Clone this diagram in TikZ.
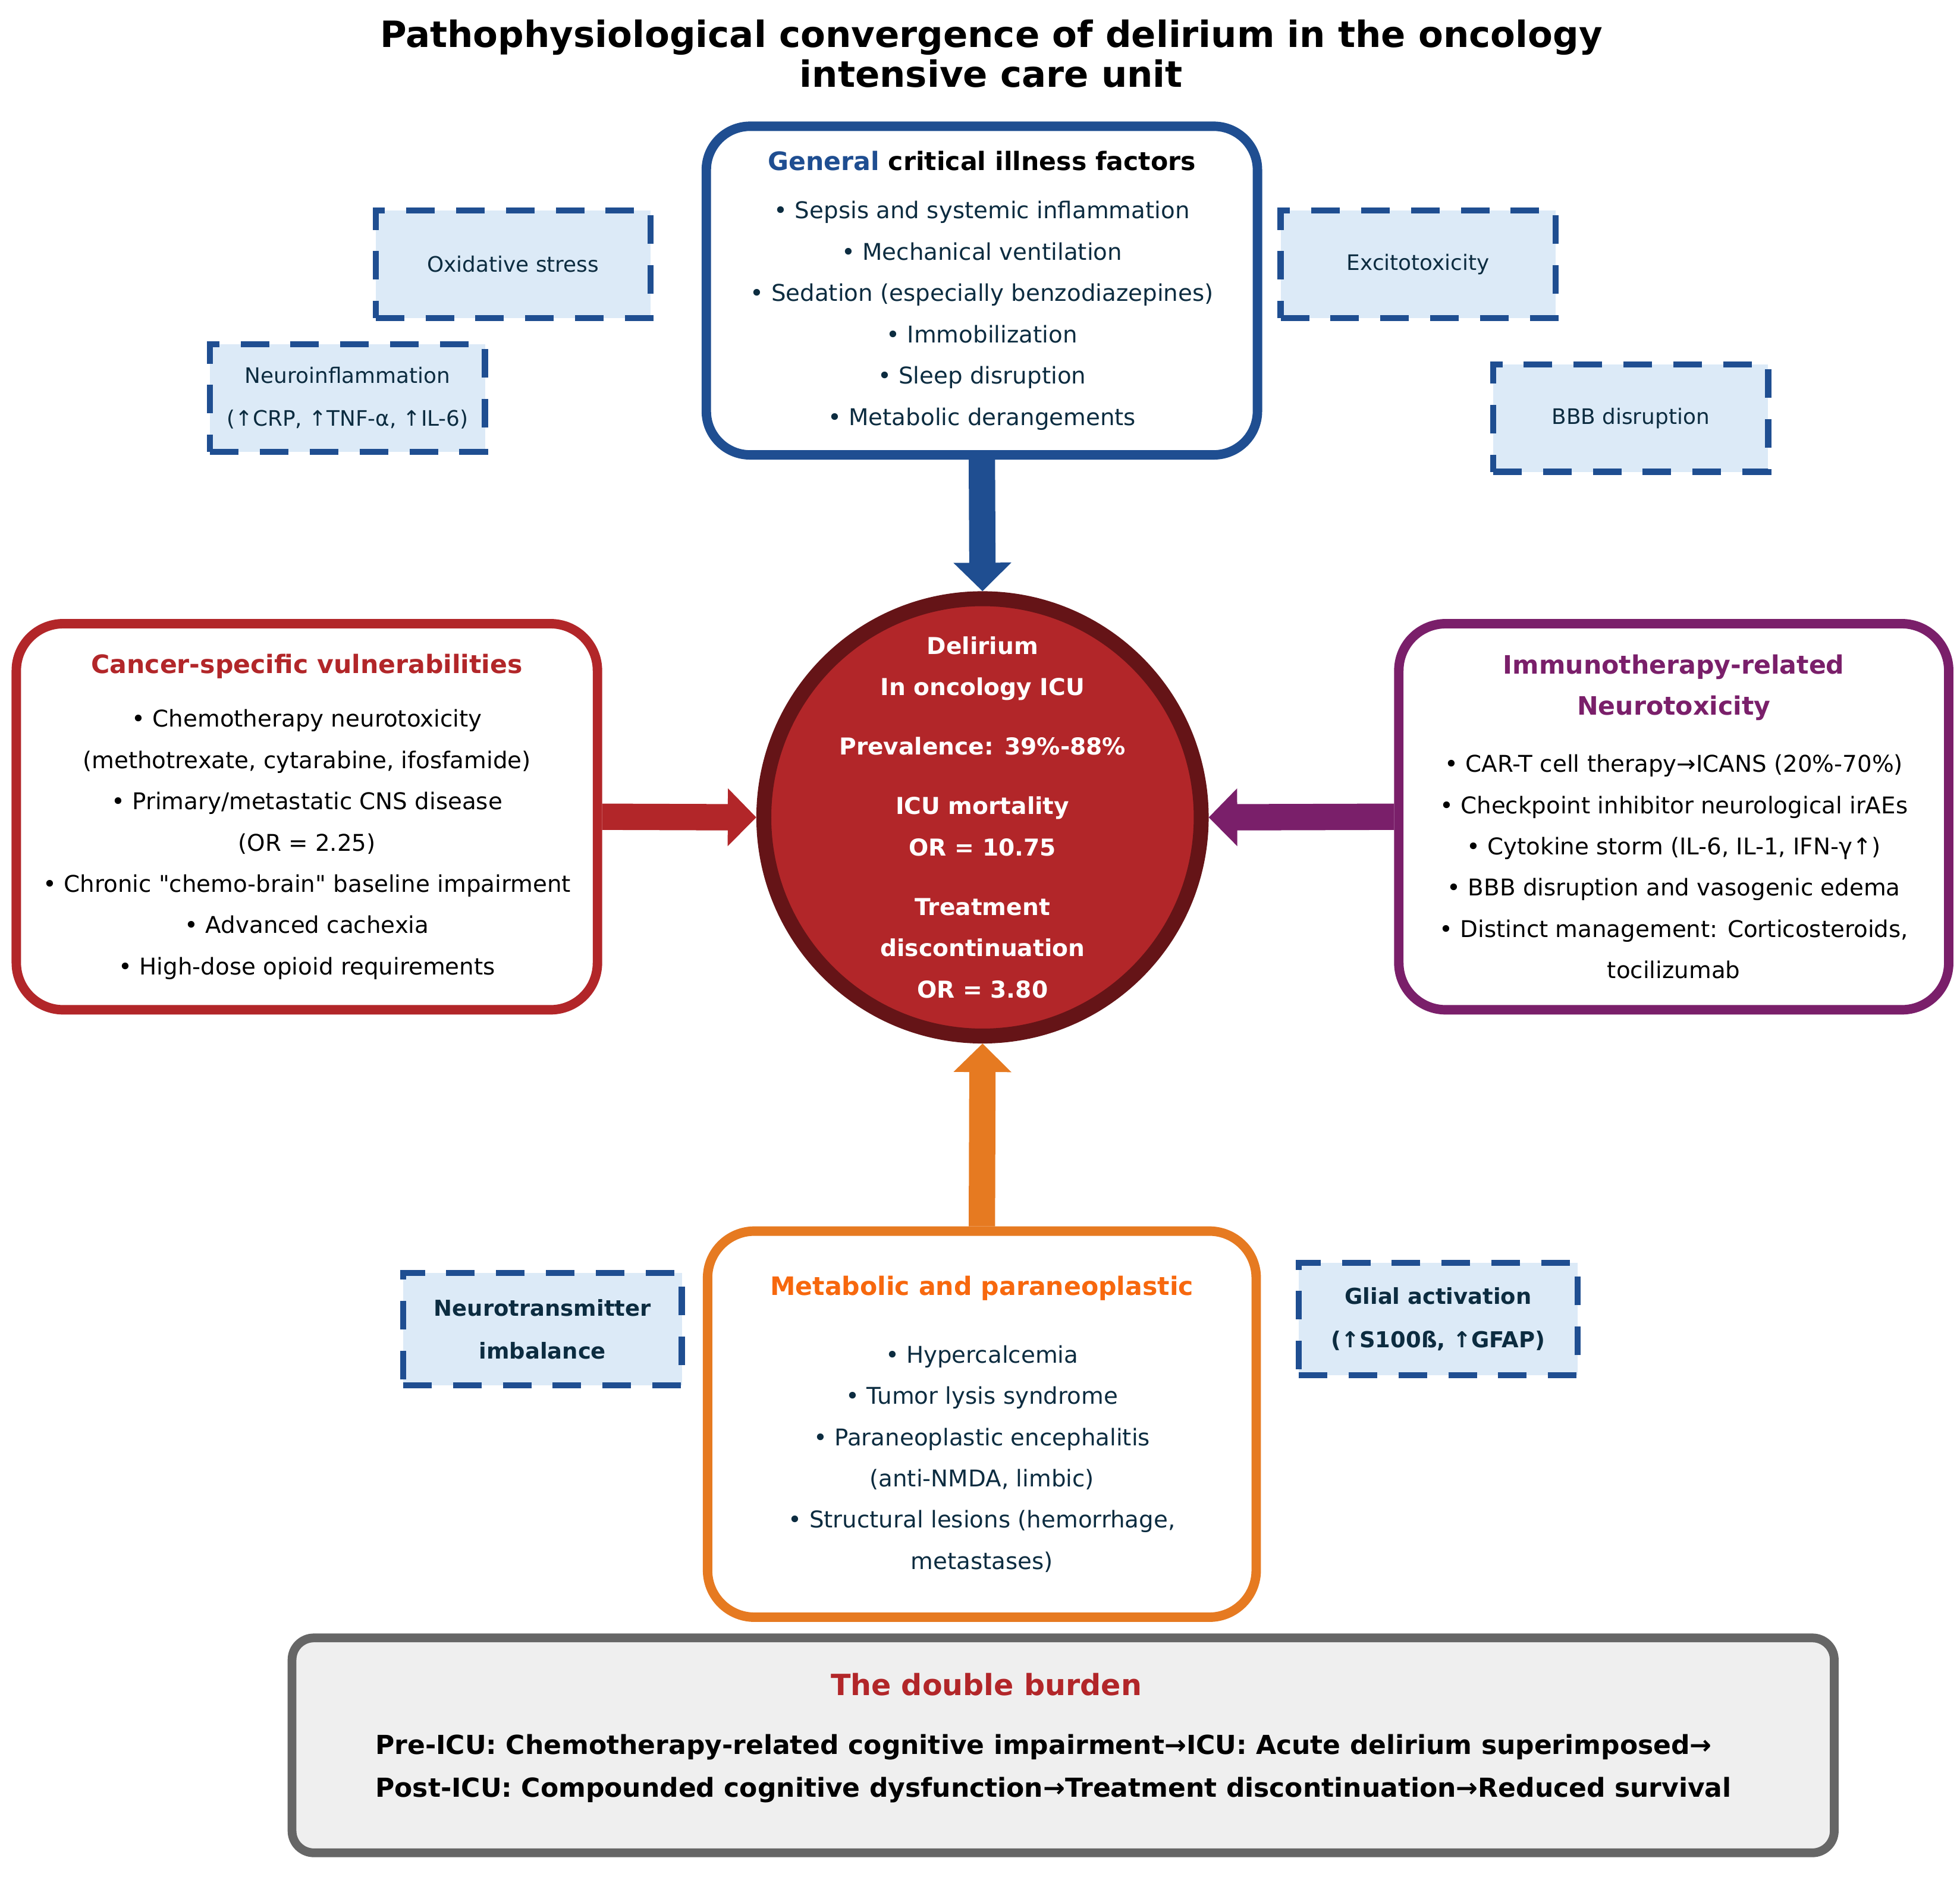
\documentclass[tikz,border=0pt]{standalone}
\usepackage{fontspec}
\setmainfont{DejaVu Sans}
\usepackage{tikz, xcolor}
\usetikzlibrary{arrows.meta}

\definecolor{genblue}{RGB}{31,78,145}
\definecolor{lightblue}{RGB}{220,234,247}
\definecolor{cancerred}{RGB}{178,38,41}
\definecolor{darkmaroon}{RGB}{101,20,23}
\definecolor{immunopurple}{RGB}{122,31,106}
\definecolor{metaorange}{RGB}{230,122,33}
\definecolor{titleorange}{RGB}{247,104,14}
\definecolor{burdengray}{RGB}{102,102,102}
\definecolor{burdenfill}{RGB}{239,239,239}
\definecolor{navytext}{RGB}{12,44,64}

\newcommand{\headfont}{\fontsize{16.5pt}{18.2pt}\selectfont\bfseries}
\newcommand{\bodyfont}{\fontsize{10.5pt}{18.8pt}\selectfont}
\newcommand{\boxtitle}[1]{{\fontsize{11.55pt}{18.8pt}\selectfont\bfseries #1}}
\newcommand{\sidefont}{\fontsize{9.7pt}{19.6pt}\selectfont}
\newcommand{\sidebold}{\fontsize{10pt}{19.6pt}\selectfont\bfseries}
\newcommand{\circfont}{\fontsize{10.6pt}{18.8pt}\selectfont\bfseries}
\newcommand{\burdenfont}{\fontsize{11.92pt}{19.3pt}\selectfont\bfseries}

\tikzset{
mainbox/.style={rectangle, fill=white, line width=4.3pt, rounded corners=0.75cm,
  align=center, font=\bodyfont},
sidebox/.style={rectangle, draw=genblue, fill=lightblue, line width=2.8pt,
  dash pattern=on 13pt off 9.7pt, minimum width=4.4cm, minimum height=1.72cm,
  align=center, text=navytext, font=\sidefont},
fatarrow/.style={line width=12pt, -{Triangle[width=25.6pt, length=13pt]}},
}

\begin{document}
\begin{tikzpicture}[x=0.02cm, y=-0.02cm]

\useasboundingbox (0, 0) rectangle (1568, 1504);

\node[font=\headfont, align=center]
(title) at (793, 43)
{Pathophysiological convergence of delirium in the oncology\\intensive care unit};

\node[mainbox, draw=genblue, text=navytext, minimum width=8.82cm, minimum height=5.26cm, rounded corners=0.7cm]
(general) at (785.5, 232.5)
{\boxtitle{\textcolor{genblue}{General} \textcolor{black}{critical illness factors}}\\[3.2pt]
• Sepsis and systemic inflammation\\
• Mechanical ventilation\\
• Sedation (especially benzodiazepines)\\
• Immobilization\\
• Sleep disruption\\
• Metabolic derangements};

\node[sidebox]
(oxidative) at (410.5, 211.5)
{Oxidative stress};

\node[sidebox]
(excitotox) at (1134.5, 211.5)
{Excitotoxicity};

\node[sidebox]
(neuroinfl) at (278, 318.5)
{Neuroinflammation\\(↑CRP, ↑TNF-α, ↑IL-6)};

\node[sidebox]
(bbb) at (1304.5, 334.5)
{BBB disruption};

\node[circle, draw=darkmaroon, fill=cancerred, line width=6.8pt, minimum size=7cm]
(delirium) at (786, 654)
{};

\node[font=\circfont, text=white, align=center]
(delirium-text) at (786, 654)
{Delirium\\In oncology ICU\\[8.3pt]
Prevalence: 39\%-88\%\\[8.3pt]
ICU mortality\\OR = 10.75\\[8.3pt]
Treatment\\discontinuation\\OR = 3.80};

\node[mainbox, draw=cancerred, text=black, minimum width=9.3cm, minimum height=6.18cm]
(cancer) at (245.5, 653.5)
{\boxtitle{\textcolor{cancerred}{Cancer-specific vulnerabilities}}\\[5.7pt]
• Chemotherapy neurotoxicity\\
(methotrexate, cytarabine, ifosfamide)\\
• Primary/metastatic CNS disease\\
(OR = 2.25)\\
• Chronic \textquotedbl chemo-brain\textquotedbl{} baseline impairment\\
• Advanced cachexia\\
• High-dose opioid requirements};

\node[mainbox, draw=immunopurple, text=black, minimum width=8.8cm, minimum height=6.18cm]
(immuno) at (1339, 653.5)
{\boxtitle{\textcolor{immunopurple}{Immunotherapy-related}}\\
\boxtitle{\textcolor{immunopurple}{Neurotoxicity}}\\[7.1pt]
• CAR-T cell therapy→ICANS (20\%-70\%)\\
• Checkpoint inhibitor neurological irAEs\\
• Cytokine storm (IL-6, IL-1, IFN-γ↑)\\
• BBB disruption and vasogenic edema\\
• Distinct management: Corticosteroids,\\
tocilizumab};

\node[mainbox, draw=metaorange, text=navytext, minimum width=8.78cm, minimum height=6.18cm]
(metabolic) at (785.5, 1139.5)
{\boxtitle{\textcolor{titleorange}{Metabolic and paraneoplastic}}\\[12pt]
• Hypercalcemia\\
• Tumor lysis syndrome\\
• Paraneoplastic encephalitis\\
(anti-NMDA, limbic)\\
• Structural lesions (hemorrhage,\\
metastases)};

\node[sidebox, font=\sidebold, minimum width=4.46cm, minimum height=1.8cm]
(neurotrans) at (434, 1063.5)
{Neurotransmitter\\imbalance};

\node[sidebox, font=\sidebold, minimum width=4.46cm, minimum height=1.8cm]
(glial) at (1150.5, 1055.5)
{Glial activation\\(↑S100ß, ↑GFAP)};

\node[rectangle, draw=burdengray, fill=burdenfill, line width=4pt, rounded corners=0.35cm, minimum width=24.68cm, minimum height=3.44cm]
(burden) at (850.5, 1396.5)
{};

\node[font=\fontsize{13.3pt}{16pt}\selectfont\bfseries, text=cancerred]
(burden-title) at (789, 1348)
{The double burden};

\node[font=\burdenfont, align=left, anchor=west, inner sep=0pt]
(burden-text) at (300, 1415)
{Pre-ICU: Chemotherapy-related cognitive impairment→ICU: Acute delirium superimposed→\\
Post-ICU: Compounded cognitive dysfunction→Treatment discontinuation→Reduced survival};

\draw[fatarrow, genblue] (general.south) -- (delirium.north);
\draw[fatarrow, cancerred] (cancer.east) -- (delirium.west);
\draw[fatarrow, immunopurple] (immuno.west) -- (delirium.east);
\draw[fatarrow, metaorange] (metabolic.north) -- (delirium.south);

\end{tikzpicture}
\end{document}
